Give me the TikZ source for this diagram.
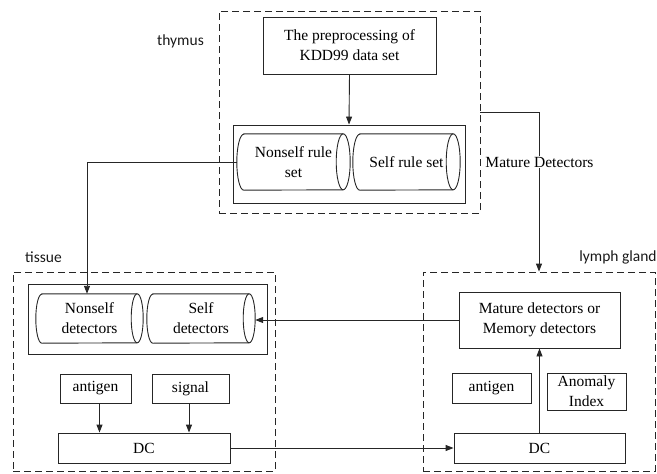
\documentclass[tikz,border=0pt]{standalone}
\usepackage{fontspec}
\setmainfont{Liberation Serif}
\newfontfamily\labelfont{Carlito}
\usetikzlibrary{arrows.meta}
\newcommand\cylout[3]{%
  \draw[ln] ([xshift=#2pt]#1.north west) -- ([xshift=-#2pt]#1.north east)
    arc[start angle=90,end angle=-90,x radius=#2pt,y radius=#3pt]
    -- ([xshift=#2pt]#1.south west)
    arc[start angle=270,end angle=90,x radius=#2pt,y radius=#3pt] -- cycle;
  \draw[ln] ([xshift=-#2pt]#1.north east)
    arc[start angle=90,end angle=270,x radius=#2pt,y radius=#3pt];}
\tikzset{
  ln/.style={draw=black!85, line width=0.9pt},
  zone/.style={draw=black!85, line width=0.9pt, dash pattern=on 7pt off 4pt, inner sep=0pt},
  box/.style={draw=black!85, line width=0.9pt, inner sep=0pt, align=center, text=black},
  cyl/.style={inner sep=0pt, align=center, text=black},
  arr/.style={ln, -{Triangle[length=8pt,width=6pt]}},
  lbl/.style={font=\labelfont\fontsize{15.5}{19}\selectfont, text=black!90, inner sep=0pt}
}
\begin{document}
\begin{tikzpicture}[x=1pt,y=-1pt,font=\fontsize{15.5}{20}\selectfont]
\useasboundingbox (0,0) rectangle (657,474);
% zones
\node[zone, minimum width=261pt, minimum height=202pt] (thymus) at (349.5,112) {};
\node[zone, minimum width=262pt, minimum height=199pt] (tissue) at (144,371.5) {};
\node[zone, minimum width=232pt, minimum height=199pt] (lymph) at (539,371.5) {};
\node[lbl] (tthymus) at (180.5,41) {thymus};
\node[lbl] (ttissue) at (43.5,257) {tissue};
\node[lbl] (tlymph) at (618,257) {lymph gland};
% thymus content
\node[box, minimum width=173pt, minimum height=57pt] (pre) at (349.5,45.5) {The preprocessing of\\KDD99 data set};
\node[box, minimum width=232pt, minimum height=78pt] (rulebox) at (349,164) {};
\node[cyl, minimum width=113pt, minimum height=56pt] (nsr) at (293.5,162) {Nonself rule\\set};
\node[cyl, minimum width=107pt, minimum height=56pt] (sr) at (406.5,162) {Self rule set};
\cylout{nsr}{7}{28}
\cylout{sr}{7}{28}
% tissue content
\node[box, minimum width=239pt, minimum height=70pt] (detbox) at (147.5,319) {};
\node[cyl, minimum width=107pt, minimum height=49pt] (nsd) at (89.5,318.5) {Nonself\\detectors};
\node[cyl, minimum width=108pt, minimum height=49pt] (sd) at (201,318.5) {Self\\detectors};
\cylout{nsd}{6}{24.5}
\cylout{sd}{6}{24.5}
\node[box, minimum width=71pt, minimum height=29pt] (ag1) at (95.5,388.5) {antigen};
\node[box, minimum width=77pt, minimum height=29pt] (sig) at (190.5,388.5) {signal};
\node[box, minimum width=172pt, minimum height=30pt] (dc1) at (144,448) {DC};
% lymph content
\node[box, minimum width=161pt, minimum height=56pt] (mature) at (539.5,320) {Mature detectors or\\Memory detectors};
\node[box, minimum width=79pt, minimum height=30pt] (ag2) at (491.5,388) {antigen};
\node[box, minimum width=79pt, minimum height=37pt] (anom) at (586.5,391.5) {Anomaly\\Index};
\node[box, minimum width=171pt, minimum height=30pt] (dc2) at (539.5,448) {DC};
% connectors
\draw[arr] (pre.south) -- (rulebox.north);
\draw[arr] (nsr.west) -| ([xshift=-2.5pt]nsd.north);
\draw[arr] (thymus.east) -| (lymph.north);
\node[fill=white, inner sep=1pt, text=black] (mdlabel) at (539.5,162) {Mature Detectors};
\draw[arr] (mature.west) -- (mature.west -| sd.east);
\draw[arr] ([xshift=4pt]ag1.south) -- ([xshift=4pt]ag1.south |- dc1.north);
\draw[arr] ([xshift=-1.5pt]sig.south) -- ([xshift=-1.5pt]sig.south |- dc1.north);
\draw[arr] (dc1.east) -- (dc2.west);
\draw[arr] (dc2.north) -- (mature.south);
\end{tikzpicture}
\end{document}
